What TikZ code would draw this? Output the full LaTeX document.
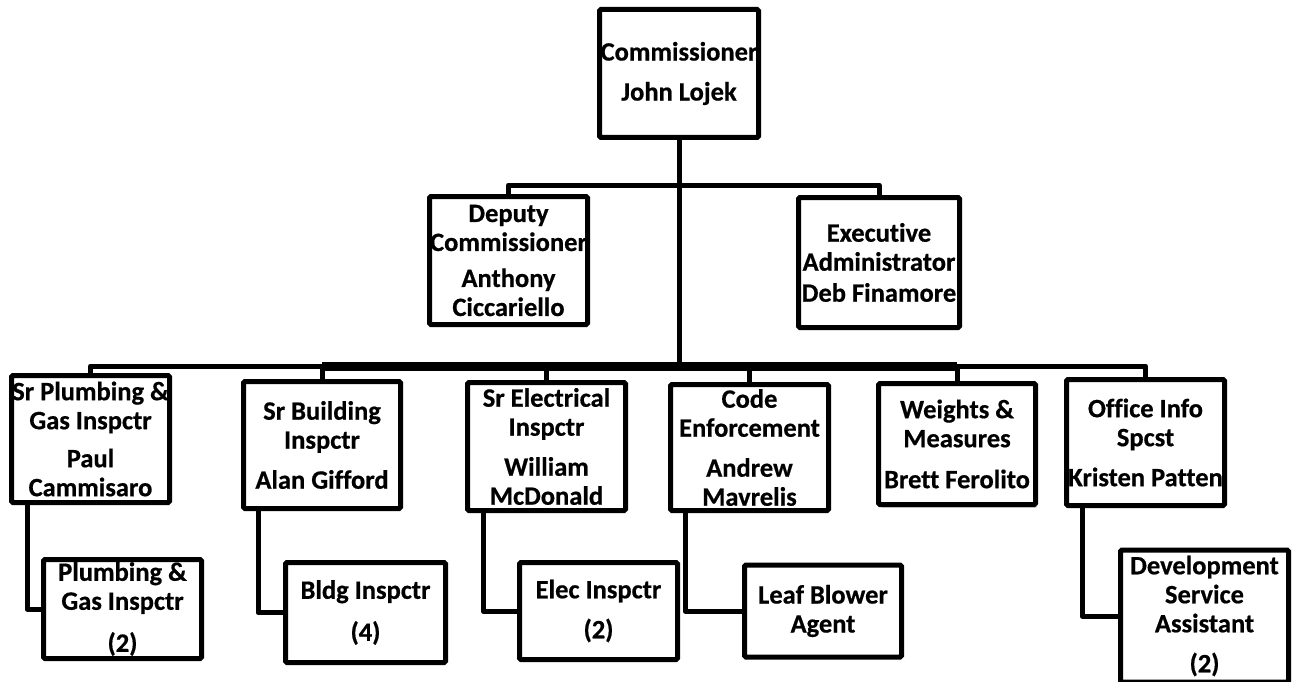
\documentclass[tikz,border=0pt]{standalone}
\usepackage{fontspec}
\setmainfont{Carlito}[Ligatures=NoCommon, BoldFeatures={FakeBold=0.6}]
\usetikzlibrary{shadows,calc}
\tikzset{
  orgbox/.style={draw=black, line width=5pt, fill=white, rounded corners=1.5pt,
    align=center, inner sep=0pt, font=\fontsize{26.5}{29}\selectfont\bfseries},
  conn/.style={draw=black, line width=5pt, line join=round},
  thickconn/.style={draw=black, line width=9pt}
}
\begin{document}
\begin{tikzpicture}[x=1pt, y=-1pt]
\useasboundingbox[fill=white] (0,0) rectangle (1293,682);
% level 1
\node[orgbox, minimum width=159, minimum height=128] (comm) at (679,73.5) {Commissioner\\[11pt]John Lojek};
% level 2
\node[orgbox, minimum width=158, minimum height=128] (dep) at (508.5,260.5) {Deputy\\Commissioner\\[7pt]Anthony\\Ciccariello};
\node[orgbox, minimum width=161, minimum height=130] (exec) at (879,262.5) {Executive\\Administrator\\[2pt]Deb Finamore};
% level 3
\node[orgbox, minimum width=158, minimum height=127] (srpl) at (90.5,439) {Sr Plumbing \&\\Gas Inspctr\\[9pt]Paul\\Cammisaro};
\node[orgbox, minimum width=157, minimum height=127] (srbl) at (322,445) {Sr Building\\Inspctr\\[11pt]Alan Gifford};
\node[orgbox, minimum width=158, minimum height=128] (srel) at (546.5,446.5) {Sr Electrical\\Inspctr\\[11pt]William\\McDonald};
\node[orgbox, minimum width=158, minimum height=126] (code) at (749.5,447.5) {Code\\Enforcement\\[11pt]Andrew\\Mavrelis};
\node[orgbox, minimum width=157, minimum height=121,
  drop shadow={opacity=0.45, shadow xshift=2pt, shadow yshift=-3pt}] (wm) at (957,444) {Weights \&\\Measures\\[12pt]Brett Ferolito};
\node[orgbox, minimum width=158, minimum height=126] (off) at (1145.5,442.5) {Office Info\\Spcst\\[11pt]Kristen Patten};
% level 4
\node[orgbox, minimum width=158, minimum height=99] (plg) at (122.5,609) {Plumbing \&\\Gas Inspctr\\[13pt](2)};
\node[orgbox, minimum width=160, minimum height=100] (bldg) at (365.5,612.5) {Bldg Inspctr\\[13pt](4)};
\node[orgbox, minimum width=158, minimum height=97] (elec) at (598.5,611) {Elec Inspctr\\[11pt](2)};
\node[orgbox, minimum width=157, minimum height=92] (leaf) at (823,611) {Leaf Blower\\Agent};
\node[orgbox, minimum width=168, minimum height=132] (dev) at (1204.5,616) {Development\\Service\\Assistant\\[11pt](2)};
% bars
\coordinate (b1) at (679,185);
\coordinate (b2) at (679,366);
% connectors
\draw[conn] (comm.south) -- (b2);
\draw[conn] (dep.north) |- (b1) -| (exec.north);
\draw[conn] (srpl.north) |- (b2) -| (off.north);
\draw[thickconn] (srbl.north |- b2) -- (wm.north |- b2);
\draw[conn] (srbl.north) -- (srbl.north |- b2);
\draw[conn] (srel.north) -- (srel.north |- b2);
\draw[conn] (code.north) -- (code.north |- b2);
\draw[conn] (wm.north) -- (wm.north |- b2);
\draw[conn] ([xshift=18pt]srpl.south west) |- (plg.west);
\draw[conn] ([xshift=17pt]srbl.south west) |- (bldg.west);
\draw[conn] ([xshift=18pt]srel.south west) |- (elec.west);
\draw[conn] ([xshift=17pt]code.south west) |- (leaf.west);
\draw[conn] ([xshift=18pt]off.south west) |- (dev.west);
\end{tikzpicture}
\end{document}
